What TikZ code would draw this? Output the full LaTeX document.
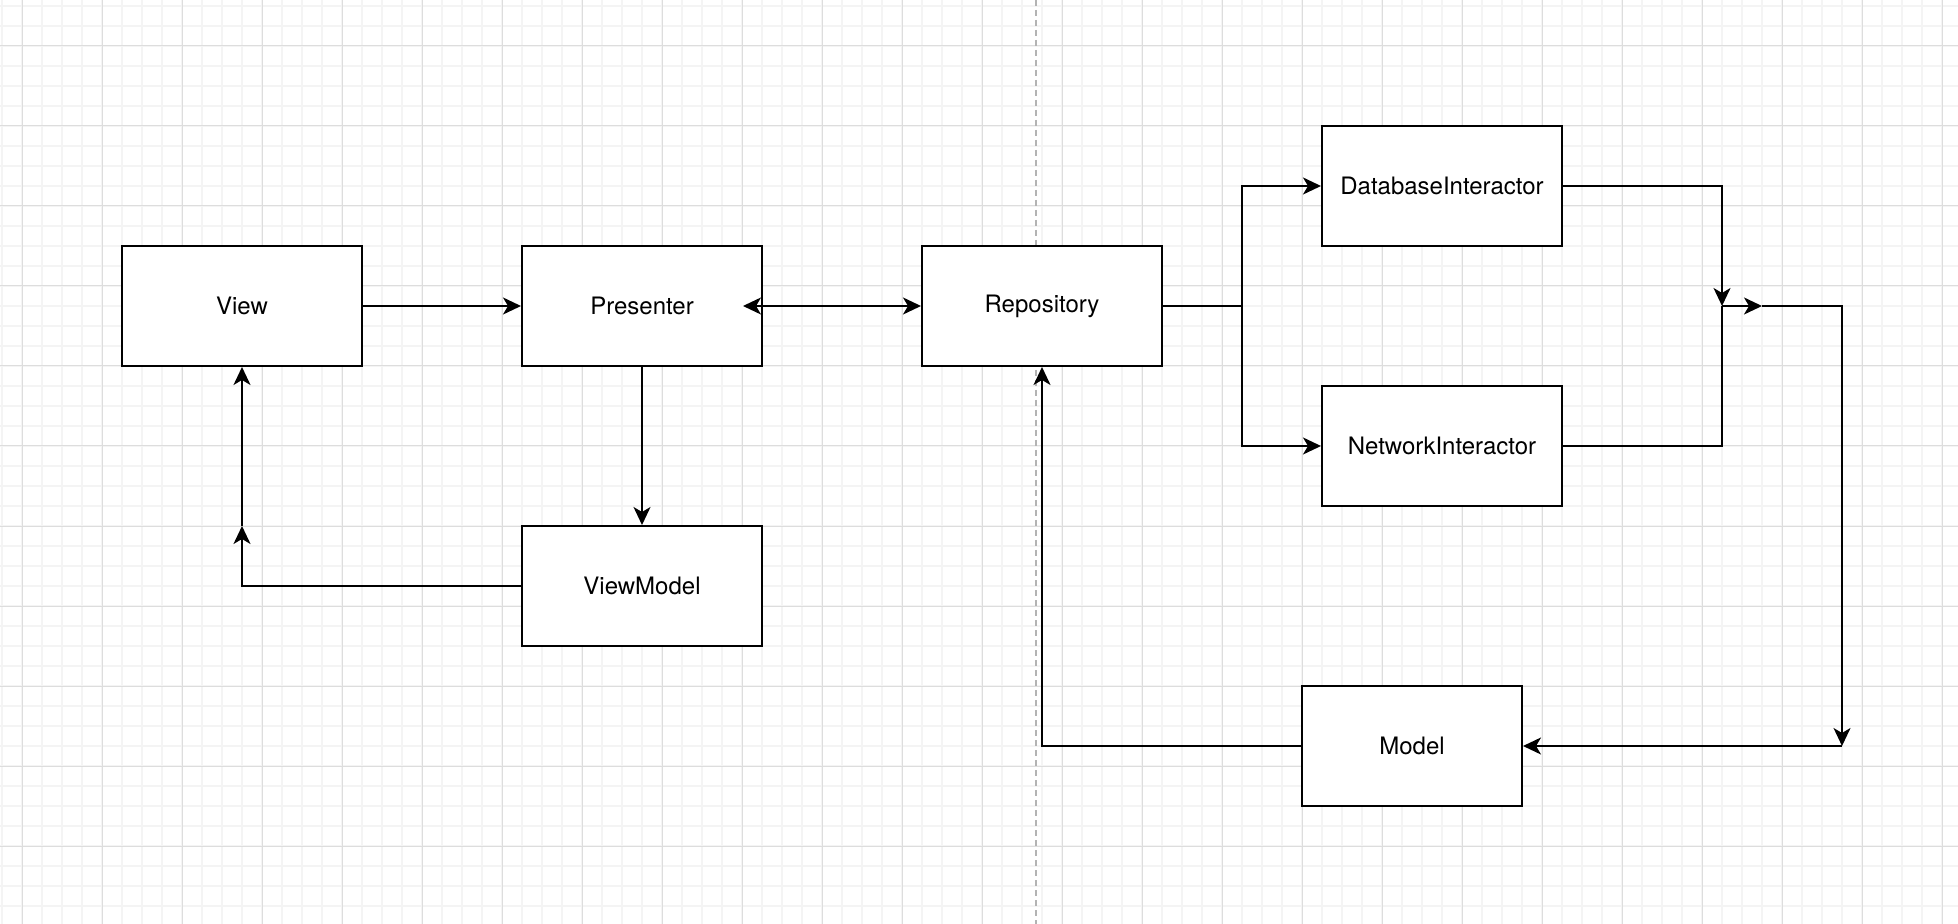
\documentclass[tikz,border=0pt]{standalone}
\usepackage{fontspec}
\setmainfont{TeX Gyre Heros}
\usepackage{xcolor}
\usepackage{tikz}
\usetikzlibrary{arrows.meta}
\usetikzlibrary{calc}
\definecolor{gridminor}{HTML}{F4F4F4}
\definecolor{gridmajor}{HTML}{DDDDDD}
\definecolor{divgray}{HTML}{B3B3B3}
\tikzstyle{bx} = [rectangle, draw, line width=1pt, fill=white, minimum width=120pt, minimum height=60pt, inner sep=0pt, font=\fontsize{12}{14}\selectfont]
\tikzstyle{ln} = [line width=1pt]
\tikzstyle{ar} = [line width=1pt, -{Stealth[length=9pt,width=8.5pt,inset=2.5pt]}]
\tikzstyle{dar} = [line width=1pt, {Stealth[length=9pt,width=8.5pt,inset=2.5pt]}-{Stealth[length=9pt,width=8.5pt,inset=2.5pt]}]
\tikzstyle{divider} = [draw=divgray, line width=1pt, dash pattern=on 3pt off 2pt]

\begin{document}
\begin{tikzpicture}[x=0.5pt,y=-0.5pt]
	%	canvas and grid, in screen pixels
		\useasboundingbox (0,0) rectangle (1958,924);
		\fill[white] (0,0) rectangle (1958,924);
		\foreach \gx in {2,22,...,1958}
		\draw[gridminor, line width=0.7pt] (\gx,0) -- (\gx,924);
		\foreach \gy in {6,26,...,924}
		\draw[gridminor, line width=0.7pt] (0,\gy) -- (1958,\gy);
		\foreach \gx in {22,102,...,1958}
		\draw[gridmajor, line width=0.5pt] (\gx,0) -- (\gx,924);
		\foreach \gy in {46,126,...,924}
		\draw[gridmajor, line width=0.5pt] (0,\gy) -- (1958,\gy);
		\draw[divider] (1036,0) -- (1036,924);
	%	boxes
		\node[bx] (view) at (242,306) {View};
		\node[bx] (presenter) at (642,306) {Presenter};
		\node[bx] (repository) at (1042,306) {Repository};
		\node[bx] (viewmodel) at (642,586) {ViewModel};
		\node[bx] (database) at (1442,186) {DatabaseInteractor};
		\node[bx] (network) at (1442,446) {NetworkInteractor};
		\node[bx, minimum width=110pt] (model) at (1412,746) {Model};
	%	bends
		\coordinate (vmbend) at (242,526);
		\coordinate (fork) at (1242,306);
		\coordinate (join) at (1722,306);
		\coordinate (joinout) at (1762,306);
		\coordinate (corner) at (1842,746);
	%	connectors
		\foreach \from/\to in {view.east/presenter.west,presenter.south/viewmodel.north,vmbend/view.south,join/joinout,corner/model.east}
		\draw[ar] (\from) -- (\to);
		\draw[dar] ($(presenter.east)+(-20,0)$) -- (repository.west);
		\draw[ar] (viewmodel.west) -| (vmbend);
		\draw[ln] (repository.east) -- (fork);
		\draw[ar] (fork) |- (database.west);
		\draw[ar] (fork) |- (network.west);
		\draw[ar] (database.east) -| (join);
		\draw[ln] (network.east) -| (join);
		\draw[ar] (joinout) -| (corner);
		\draw[ar] (model.west) -| (repository.south);
	\end{tikzpicture}
\end{document}
